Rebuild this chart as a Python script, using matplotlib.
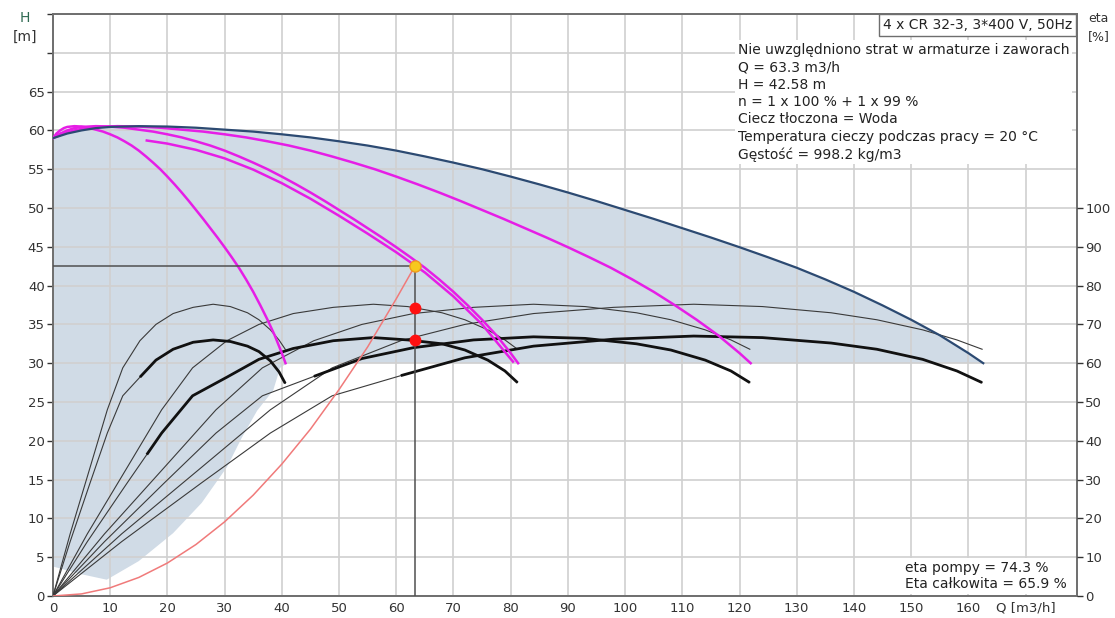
import numpy as np
import matplotlib.pyplot as plt

plt.rcParams['font.family'] = ['DejaVu Sans']

# ---- data ----
# head values along the pump curves [m]
h_curve = [59.0, 59.6, 60.0, 60.3, 60.45, 60.55, 60.5, 60.35, 60.1, 59.85, 59.5, 59.1, 58.6, 58.05,
           57.4, 56.65, 55.85, 55.0, 54.05, 53.05, 52.0, 50.9, 49.75, 48.6, 47.4, 46.2, 44.95, 43.65,
           42.3, 40.8, 39.2, 37.45, 35.6, 33.6, 31.3, 30.0]
# flow for those heads: 4 pumps (max curve), 3, 2 and 1 pump  [m3/h]
q_4p = [0, 2.5, 5, 7.5, 10, 15, 20, 25, 30, 35, 40, 45, 50, 55, 60, 65, 70, 75, 80, 85,
        90, 95, 100, 105, 110, 115, 120, 125, 130, 135, 140, 145, 150, 155, 160, 162.6]
q_3p = [0, 1.9, 3.75, 5.6, 7.5, 11.25, 15, 18.75, 22.5, 26.25, 30, 33.75, 37.5, 41.25, 45, 48.75,
        52.5, 56.25, 60, 63.75, 67.5, 71.25, 75, 78.75, 82.5, 86.25, 90, 93.75, 97.5, 101.25,
        105, 108.75, 112.5, 116.25, 120, 121.95]
q_2p = [0, 1.25, 2.5, 3.75, 5, 7.5, 10, 12.5, 15, 17.5, 20, 22.5, 25, 27.5, 30, 32.5, 35, 37.5,
        40, 42.5, 45, 47.5, 50, 52.5, 55, 57.5, 60, 62.5, 65, 67.5, 70, 72.5, 75, 77.5, 80, 81.3]
q_1p = [0, 0.6, 1.25, 1.9, 2.5, 3.75, 5, 6.25, 7.5, 8.75, 10, 11.25, 12.5, 13.75, 15, 16.25,
        17.5, 18.75, 20, 21.25, 22.5, 23.75, 25, 26.25, 27.5, 28.75, 30, 31.25, 32.5, 33.75,
        35, 36.25, 37.5, 38.75, 40, 40.65]
# 1 x 100 % + 1 x 99 % curve
q_2pb = [16.4, 20, 25, 30, 35, 40, 45, 50, 55, 60, 63.3, 65, 70, 75, 80.4]
h_2pb = [58.7, 58.3, 57.5, 56.4, 54.95, 53.2, 51.2, 49.0, 46.7, 44.3, 42.58, 41.7, 38.6, 35.0, 30.2]

# lower / left edge of the shaded operating range
q_low = [162.6, 40.9, 39.7, 38.5, 35.7, 33.0, 30.4, 26.0, 21.0, 15.0, 9.4, 5.0, 0]
h_low = [30.0, 30.0, 29.4, 26.5, 23.9, 20.4, 16.6, 12.0, 8.1, 4.5, 2.1, 2.8, 3.8]

# efficiency curves, plotted on the H scale (eta [%] = 2 * value)
q_e1 = [0, 3, 6.5, 9.5, 12.2, 15.2, 18, 21, 24.5, 28, 31, 34, 36, 38, 39.5, 40.6]
e_e1 = [0, 8.0, 16.6, 24.0, 29.4, 32.9, 35.0, 36.4, 37.2, 37.6, 37.3, 36.5, 35.6, 34.3, 33.0, 31.8]
t_e1 = [0, 7.0, 14.6, 21.0, 25.8, 28.2, 30.4, 31.8, 32.7, 33.0, 32.8, 32.2, 31.5, 30.3, 28.9, 27.4]
q_e2 = [0, 6, 13, 19, 24.4, 30.4, 36, 42, 49, 56, 62, 68, 72, 76, 79, 81.2]
e_e2 = [0, 8.0, 16.6, 24.0, 29.4, 32.9, 35.0, 36.4, 37.2, 37.6, 37.3, 36.5, 35.6, 34.3, 33.0, 31.8]
t_e2 = [0, 7.0, 14.6, 21.0, 25.8, 28.2, 30.5, 31.9, 32.9, 33.3, 33.0, 32.5, 31.7, 30.4, 29.0, 27.5]
q_e3 = [0, 9, 19.5, 28.5, 36.6, 45.6, 54, 63, 73.5, 84, 93, 102, 108, 114, 118.5, 121.8]
e_e3 = [0, 8.0, 16.6, 24.0, 29.4, 32.9, 35.0, 36.4, 37.2, 37.6, 37.3, 36.5, 35.6, 34.3, 33.0, 31.8]
t_e3 = [0, 7.0, 14.6, 21.0, 25.8, 28.3, 30.6, 32.0, 33.0, 33.4, 33.2, 32.5, 31.7, 30.4, 29.0, 27.5]
q_e4 = [0, 12, 26, 38, 48.8, 60.8, 72, 84, 98, 112, 124, 136, 144, 152, 158, 162.4]
e_e4 = [0, 8.0, 16.6, 24.0, 29.4, 32.9, 35.0, 36.4, 37.2, 37.6, 37.3, 36.5, 35.6, 34.3, 33.0, 31.8]
t_e4 = [0, 7.0, 14.6, 21.0, 25.8, 28.4, 30.7, 32.2, 33.1, 33.5, 33.3, 32.6, 31.8, 30.5, 29.0, 27.5]

# system curve
q_sys = [0, 5, 10, 15, 20, 25, 30, 35, 40, 45, 50, 55, 60, 63.3]
h_sys = [0, 0.27, 1.06, 2.39, 4.25, 6.64, 9.56, 13.0, 17.0, 21.5, 26.6, 32.1, 38.3, 42.58]

q_duty = 63.3
h_duty = 42.58
eta_pump = 74.3
eta_total = 65.9

info_lines = [
    "Nie uwzględniono strat w armaturze i zaworach",
    "Q = 63.3 m3/h",
    "H = 42.58 m",
    "n = 1 x 100 % + 1 x 99 %",
    "Ciecz tłoczona = Woda",
    "Temperatura cieczy podczas pracy = 20 °C",
    "Gęstość = 998.2 kg/m3",
]

# ---- figure ----
fig = plt.figure(figsize=(11.15, 6.18), dpi=100)
ax = fig.add_axes([0.0475, 0.0356, 0.9185, 0.9417])
ax.set_xlim(0, 179)
ax.set_ylim(0, 75)
ax.set_axisbelow('line')

ax.fill(q_4p + q_low, h_curve + h_low, color='#d0dbe6', lw=0, zorder=1)

ax.set_xticks(np.arange(0, 171, 10))
ax.set_yticks(np.arange(0, 76, 5))
ax.grid(True, color='#d0d0d0', lw=1.2)
ax.set_xticklabels([str(v) for v in range(0, 161, 10)] + ['Q [m3/h]'])
ax.set_yticklabels([str(v) for v in range(0, 66, 5)] + ['', ''])
ax.tick_params(axis='both', labelsize=9.5, colors='#333333', length=4, width=1, pad=2)
ax.tick_params(axis='x', length=0, pad=4)
for t in ax.yaxis.get_major_ticks()[-2:]:
    t.tick1line.set_visible(False)
for s in ax.spines.values():
    s.set_color('#6e6e6e')
    s.set_linewidth(1.4)

# efficiency curves (black)
thin = dict(color='#3a3a3a', lw=0.8, zorder=3)
for qq, ee, tt in [(q_e1, e_e1, t_e1), (q_e2, e_e2, t_e2), (q_e3, e_e3, t_e3), (q_e4, e_e4, t_e4)]:
    ax.plot(qq, ee, **thin)
    ax.plot(qq, tt, **thin)
# thick parts of the total efficiency curves
for qq, tt, q0 in [(q_e1, t_e1, 15.2), (q_e2, t_e2, 16.4), (q_e3, t_e3, 45.6), (q_e4, t_e4, 60.8)]:
    qa = np.array(qq)
    ta = np.array(tt)
    keep = qa > q0
    qs = np.r_[q0, qa[keep]]
    ts = np.r_[np.interp(q0, qa, ta), ta[keep]]
    ax.plot(qs, ts, color='#111111', lw=2.0, zorder=3.5, solid_capstyle='butt')

# pump curves
mag = dict(color='#e61ee6', lw=1.8, zorder=4)
ax.plot(q_1p, h_curve, **mag)
ax.plot(q_2p, h_curve, **mag)
ax.plot(q_2pb, h_2pb, **mag)
ax.plot(q_3p, h_curve, **mag)
ax.plot(q_4p, h_curve, color='#2c4a72', lw=1.6, zorder=4.5)

# system curve
ax.plot(q_sys, h_sys, color='#f07a7a', lw=1.1, zorder=4)

# duty point lines
ax.plot([0, q_duty], [h_duty, h_duty], color='#505050', lw=1.1, zorder=5)
ax.plot([q_duty, q_duty], [0, h_duty], color='#505050', lw=1.1, zorder=5)
ax.plot([q_duty], [h_duty], 'o', ms=8, mfc='#f7c81e', mec='#f09a20', mew=1, zorder=6)
ax.plot([q_duty, q_duty], [eta_pump / 2, eta_total / 2], 'o', ms=7.5, color='#ff1010', zorder=6)

# right axis: eta
ax2 = ax.twinx()
ax2.set_ylim(0, 150)
ax2.set_yticks(np.arange(0, 101, 10))
ax2.tick_params(axis='y', labelsize=9.5, colors='#333333', length=4, width=1, pad=2)
for s in ax2.spines.values():
    s.set_visible(False)

# axis titles
fig.text(25 / 1115, 1 - 18 / 618, "H", color='#2f6a52', fontsize=10, ha='center', va='center')
fig.text(25 / 1115, 1 - 37 / 618, "[m]", color='#333333', fontsize=10, ha='center', va='center')
fig.text(1088 / 1115, 1 - 18 / 618, "eta", color='#333333', fontsize=9, ha='left', va='center')
fig.text(1088 / 1115, 1 - 37 / 618, "[%]", color='#333333', fontsize=9, ha='left', va='center')

# text boxes
ax.text(0.995, 0.993, "4 x CR 32-3, 3*400 V, 50Hz", transform=ax.transAxes, ha='right', va='top',
        fontsize=10, color='#222222', zorder=10,
        bbox=dict(boxstyle='square,pad=0.3', fc='white', ec='#6e6e6e', lw=1))
ax.text(0.669, 0.950, "\n".join(info_lines), transform=ax.transAxes, ha='left', va='top',
        fontsize=10, color='#222222', linespacing=1.3, zorder=10,
        bbox=dict(boxstyle='square,pad=0.2', fc='white', ec='none'))
ax.text(0.832, 0.008, "eta pompy = %.1f %%\nEta całkowita = %.1f %%" % (eta_pump, eta_total),
        transform=ax.transAxes, ha='left', va='bottom', fontsize=10, color='#222222',
        linespacing=1.22, zorder=10, bbox=dict(boxstyle='square,pad=0.2', fc='white', ec='none'))

fig.savefig('out.png', dpi=100)
